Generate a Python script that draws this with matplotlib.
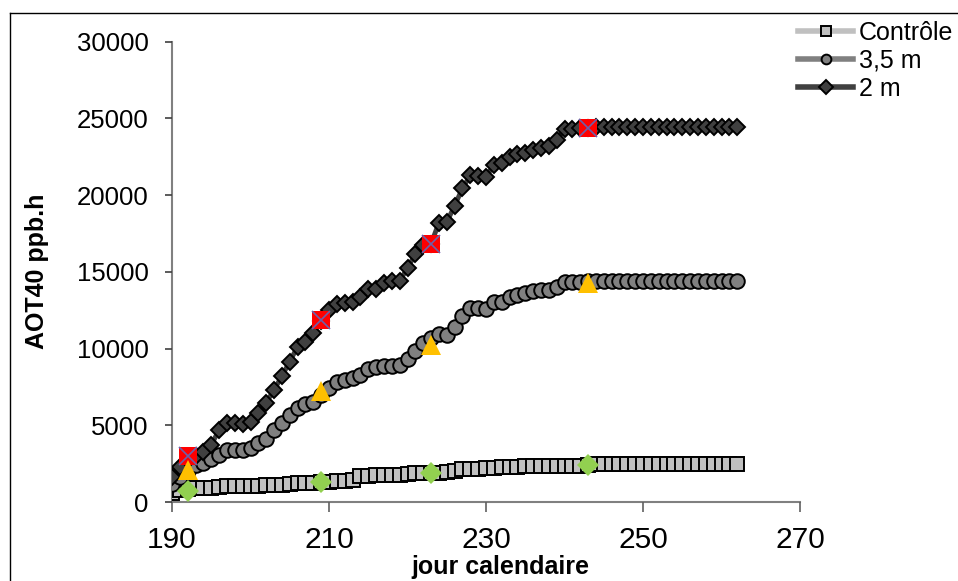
import numpy as np
import matplotlib
matplotlib.use("Agg")
import matplotlib.pyplot as plt
from matplotlib.lines import Line2D

plt.rcParams['font.family'] = ['Liberation Sans', 'DejaVu Sans']

days = np.arange(190, 263)

controle = [600, 780, 850, 900, 920, 940, 1000, 1030, 1040, 1050,
            1060, 1070, 1090, 1110, 1130, 1200, 1220, 1240, 1260, 1300,
            1330, 1340, 1360, 1420, 1700, 1720, 1730, 1740, 1750, 1760,
            1800, 1870, 1900, 1910, 1920, 1940, 2050, 2130, 2140, 2150,
            2200, 2220, 2280, 2300, 2310, 2320, 2320, 2330, 2330, 2340,
            2340, 2350, 2350, 2400, 2480, 2500, 2500, 2500, 2500, 2500,
            2500, 2500, 2500, 2500, 2500, 2500, 2500, 2500, 2500, 2500,
            2500, 2500, 2500]

m35 = [1170, 1650, 2000, 2400, 2550, 2800, 3060, 3390, 3400, 3400,
       3500, 3830, 4090, 4690, 5130, 5670, 6110, 6390, 6540, 7000,
       7450, 7850, 7950, 8100, 8280, 8650, 8780, 8870, 8890, 8930,
       9300, 9870, 10340, 10700, 10950, 10900, 11400, 12150, 12630, 12630,
       12600, 13060, 13060, 13390, 13500, 13650, 13760, 13820, 13820, 14040,
       14360, 14360, 14360, 14400, 14430, 14430, 14430, 14430, 14430, 14430,
       14430, 14430, 14430, 14430, 14430, 14430, 14430, 14430, 14430, 14430,
       14430, 14430, 14430]

m2 = [1650, 2250, 2750, 3000, 3280, 3720, 4700, 5170, 5130, 5060,
      5200, 5780, 6480, 7300, 8210, 9150, 10130, 10450, 11040, 11800,
      12520, 12930, 12950, 13060, 13350, 13870, 13850, 14260, 14410, 14410,
      15240, 16170, 16760, 16820, 18200, 18250, 19300, 20450, 21280, 21230,
      21200, 21970, 22080, 22510, 22690, 22730, 22950, 23100, 23170, 23600,
      24300, 24300, 24350, 24400, 24450, 24450, 24450, 24450, 24450, 24450,
      24450, 24450, 24450, 24450, 24450, 24450, 24450, 24450, 24450, 24450,
      24450, 24450, 24450]

# measurement days (extra markers)
mark_days = [192, 209, 223, 243]
mark_red = [3000, 11870, 16820, 24400]
mark_yellow = [2090, 7240, 10240, 14280]
mark_green = [740, 1300, 1910, 2410]

fig = plt.figure(figsize=(9.58, 5.81), dpi=100)
ax = fig.add_axes([172 / 958, 1 - 502 / 581, (800 - 172) / 958, (502 - 41.7) / 581])

ax.plot(days, controle, '-s', color='#C0C0C0', lw=3, ms=10, mfc='#C0C0C0',
        mec='black', mew=1.4, label='Contrôle', zorder=3)
ax.plot(days, m35, '-o', color='#808080', lw=3, ms=10.5, mfc='#808080',
        mec='black', mew=1.4, label='3,5 m', zorder=4)
ax.plot(days, m2, '-D', color='#404040', lw=3.5, ms=8.5, mfc='#404040',
        mec='black', mew=1.4, label='2 m', zorder=5)

ax.plot(mark_days, mark_red, 's', color='#FF0000', ms=13.5, mew=0, zorder=6)
ax.plot(mark_days, mark_red, 'x', color='#6E5FA8', ms=13, mew=1.2, zorder=7)
ax.plot(mark_days, mark_yellow, '^', color='#FFC000', ms=15, mew=0, zorder=6)
ax.plot(mark_days, mark_green, 'D', color='#92D050', ms=11.5, mew=0, zorder=6)

ax.set_xlim(190, 270)
ax.set_ylim(0, 30000)
ax.set_xticks([190, 210, 230, 250, 270])
ax.set_yticks(range(0, 30001, 5000))

for s in ['top', 'right']:
    ax.spines[s].set_visible(False)
for s in ['left', 'bottom']:
    ax.spines[s].set_color('#808080')
    ax.spines[s].set_linewidth(1.5)
ax.spines['left'].set_zorder(1)
ax.spines['bottom'].set_zorder(1)

ax.tick_params(axis='y', direction='out', length=5, width=1.2, color='#404040',
               labelsize=18.5, pad=12)
ax.tick_params(axis='x', direction='out', length=7, width=1.2, color='#606060',
               labelsize=21.5, pad=10)

fig.text(37 / 958, 1 - 271 / 581, 'AOT40 ppb.h', rotation=90, fontsize=18,
         fontweight='bold', ha='center', va='center')
fig.text(500 / 958, 1 - 567 / 581, 'jour calendaire', fontsize=18,
         fontweight='bold', ha='center', va='center')

leg = fig.legend(loc='upper left', bbox_to_anchor=(798 / 958, 1 - 21 / 581),
                 frameon=False, fontsize=18, handlelength=2.2,
                 handletextpad=0.25, labelspacing=0.15, borderpad=0,
                 borderaxespad=0)
for h in leg.legend_handles:
    h.set_markersize(7)
    h.set_linewidth(4)

# figure frame (top and left edges visible)
fy = 1 - 13 / 581
fx = 10 / 958
fig.add_artist(Line2D([fx, fx], [0, fy], color='black', lw=1, transform=fig.transFigure))
fig.add_artist(Line2D([fx, 1], [fy, fy], color='black', lw=1, transform=fig.transFigure))

fig.savefig('out.png', dpi=100)
